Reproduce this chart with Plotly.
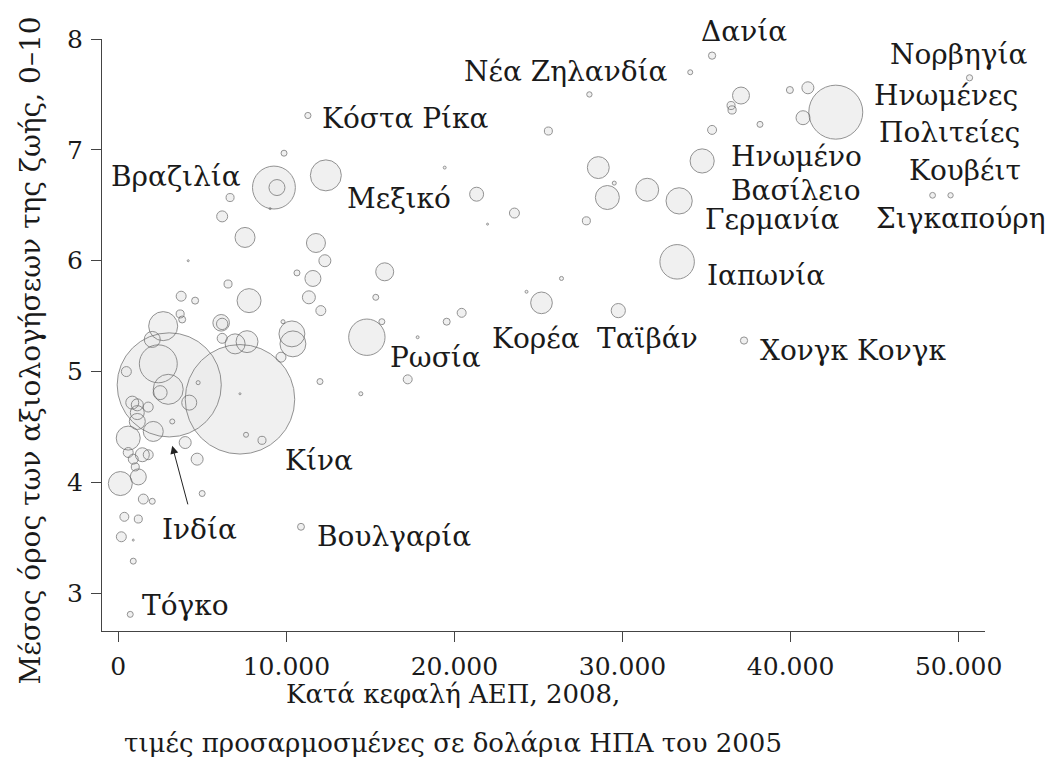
import plotly.graph_objects as go

# GDP per capita (2005 US$ PPP), 2008
gdp = [35330, 34030, 28030, 25590, 37050, 36460, 36520, 39960, 41030, 40740,
       42690, 38180, 35330, 34740, 28560, 29510, 29100, 31470, 33370, 27850,
       33250, 26370, 24290, 25180, 29750, 37230, 50650, 48450, 49520, 19420,
       21320, 23570, 21970, 15850, 15320, 20430, 19540, 14790, 15680, 17810,
       17220, 14430, 12000, 11280, 9860, 9260, 9440, 12350, 9030, 6650,
       6180, 7540, 11760, 12290, 4160, 10630, 11580, 6530, 3740, 4570,
       7780, 11340, 12050, 3680, 3800, 2670, 6120, 6180, 6180, 6950,
       7660, 10330, 10390, 9800, 9680, 2020, 2380, 3030, 2970, 2490,
       4220, 4750, 7240, 7240, 480, 830, 1130, 1780, 1130, 1130,
       2080, 590, 590, 890, 1430, 1780, 1010, 120, 1190, 1490,
       2020, 3210, 3980, 4690, 7600, 8550, 4990, 360, 1190, 180,
       890, 890, 710, 10870]

# Mean life evaluation, 0-10
life = [7.85, 7.70, 7.50, 7.17, 7.49, 7.40, 7.36, 7.54, 7.56, 7.29,
        7.34, 7.23, 7.18, 6.90, 6.84, 6.70, 6.57, 6.64, 6.54, 6.36,
        5.99, 5.84, 5.72, 5.62, 5.55, 5.28, 7.65, 6.59, 6.59, 6.84,
        6.60, 6.43, 6.33, 5.90, 5.67, 5.53, 5.45, 5.31, 5.45, 5.31,
        4.93, 4.80, 4.91, 7.31, 6.97, 6.66, 6.66, 6.77, 6.47, 6.57,
        6.40, 6.21, 6.16, 6.00, 6.00, 5.89, 5.84, 5.79, 5.68, 5.64,
        5.64, 5.67, 5.55, 5.52, 5.47, 5.41, 5.44, 5.43, 5.30, 5.25,
        5.27, 5.34, 5.25, 5.45, 5.13, 5.29, 5.07, 4.88, 4.84, 4.81,
        4.72, 4.90, 4.75, 4.80, 5.00, 4.72, 4.70, 4.68, 4.63, 4.55,
        4.46, 4.40, 4.27, 4.21, 4.25, 4.25, 4.14, 3.99, 4.05, 3.85,
        3.83, 4.55, 4.36, 4.21, 4.43, 4.38, 3.90, 3.69, 3.67, 3.51,
        3.48, 3.29, 2.81, 3.60]

# Population (millions) -> bubble area
pop = [5.5, 2.6, 3, 6.7, 30, 6.7, 7, 5.1, 15, 20.4,
       304, 3.75, 8.4, 61, 50, 1.7, 60, 55, 72, 6.7,
       124, 1.7, 0.9, 49, 21, 5.5, 4, 3.5, 3, 0.9,
       20.4, 10.4, 0.4, 33.8, 3.75, 8.4, 5.1, 138, 3.75, 0.9,
       8.4, 1.7, 3.75, 4, 3.75, 192, 26.7, 100, 0.4, 6.7,
       12.6, 41.7, 37.6, 15, 0.4, 3.75, 26.7, 6.7, 10.4, 5.1,
       60, 17.6, 10.4, 6.7, 5.1, 88, 28.7, 13.5, 10.4, 41.7,
       50, 70, 70, 1.7, 10.4, 26.7, 150, 1130, 94, 20.4,
       23.5, 1.7, 1250, 0.4, 10.4, 17.6, 15, 10.4, 20.4, 26.7,
       41.7, 60, 10.4, 10.4, 20.4, 10.4, 6.7, 60, 26.7, 10.4,
       3.75, 2.6, 15, 15, 2.6, 6.7, 3.75, 8.4, 6.7, 10.4,
       0.4, 3.75, 3.75, 5]

# Country labels
label_text = ["Δανία", "Νέα Ζηλανδία", "Νορβηγία", "Ηνωμένες", "Πολιτείες",
              "Κόστα Ρίκα", "Ηνωμένο", "Βασίλειο", "Βραζιλία", "Μεξικό",
              "Κουβέιτ", "Σιγκαπούρη", "Γερμανία", "Ιαπωνία", "Κορέα",
              "Ταϊβάν", "Χονγκ Κονγκ", "Ρωσία", "Κίνα", "Ινδία",
              "Βουλγαρία", "Τόγκο"]
label_x = [34560, 32800, 45780, 44830, 45130,
           12000, 36340, 36340, 7420, 13480,
           46910, 44950, 34800, 34920, 22090,
           28380, 38060, 16030, 9800, 2490,
           11700, 1310]
label_y = [8.07, 7.71, 7.86, 7.49, 7.16,
           7.28, 6.94, 6.63, 6.76, 6.56,
           6.81, 6.38, 6.37, 5.87, 5.30,
           5.30, 5.19, 5.13, 4.20, 3.58,
           3.51, 2.89]
label_anchor = ["left", "right", "left", "left", "left",
                "left", "left", "left", "right", "left",
                "left", "left", "left", "left", "left",
                "left", "left", "left", "left", "left",
                "left", "left"]

x_tickvals = [0, 10000, 20000, 30000, 40000, 50000]
x_ticktext = ["0", "10.000", "20.000", "30.000", "40.000", "50.000"]
y_tickvals = [3, 4, 5, 6, 7, 8]

# India arrow target
india_arrow_x, india_arrow_y = 3210, 4.33

X_RANGE = [-970, 51569]
Y_RANGE = [2.66, 8.0]

FONT = "DejaVu Serif"
TXT = "#1a1a1a"
REF_POP, REF_DIAM = 304, 54
sizeref = 2.0 * REF_POP / REF_DIAM ** 2

fig = go.Figure()
fig.add_trace(go.Scatter(
    x=gdp, y=life, mode="markers", hoverinfo="skip",
    marker=dict(size=pop, sizemode="area", sizeref=sizeref, sizemin=1,
                color="rgb(233,233,233)", line=dict(width=0)),
    showlegend=False))
fig.add_trace(go.Scatter(
    x=gdp, y=life, mode="markers", hoverinfo="skip",
    marker=dict(size=pop, sizemode="area", sizeref=sizeref, sizemin=1,
                color="rgba(0,0,0,0)", line=dict(width=1, color="rgb(105,105,105)")),
    showlegend=False))

annotations = []
for t, x, y, a in zip(label_text, label_x, label_y, label_anchor):
    # vertical position via paper fraction so labels above the axis top still show
    py = (y - Y_RANGE[0]) / (Y_RANGE[1] - Y_RANGE[0])
    annotations.append(dict(x=x, y=py, yref="paper", text=t, showarrow=False, xanchor=a,
                            yanchor="middle", font=dict(family=FONT, size=28, color=TXT)))

annotations.append(dict(x=india_arrow_x, y=india_arrow_y, ax=16, ay=60, text="",
                        showarrow=True, arrowhead=2, arrowsize=1.6, arrowwidth=1,
                        arrowcolor="#222222", standoff=0))

annotations.append(dict(xref="paper", yref="paper", x=0.398, y=-0.107,
                        text="Κατά κεφαλή ΑΕΠ, 2008,", showarrow=False,
                        xanchor="center", yanchor="middle",
                        font=dict(family=FONT, size=26, color=TXT)))
annotations.append(dict(xref="paper", yref="paper", x=0.398, y=-0.19,
                        text="τιμές προσαρμοσμένες σε δολάρια ΗΠΑ του 2005", showarrow=False,
                        xanchor="center", yanchor="middle",
                        font=dict(family=FONT, size=26, color=TXT)))
annotations.append(dict(xref="paper", yref="paper", x=-0.0815, y=0.474,
                        text="Μέσος όρος των αξιολογήσεων της ζωής, 0–10", showarrow=False,
                        textangle=-90, xanchor="center", yanchor="middle",
                        font=dict(family=FONT, size=28, color=TXT)))

axis_common = dict(showline=True, linecolor="#444444", linewidth=1, ticks="outside",
                   ticklen=10, tickcolor="#444444", tickwidth=1, showgrid=False,
                   zeroline=False, ticklabelstandoff=3,
                   tickfont=dict(family=FONT, size=25, color=TXT))

# the page body adds an 8 px offset, so the figure is 8 px smaller than the window
fig.update_layout(
    width=1050, height=763,
    margin=dict(l=94, r=73, t=31, b=140),
    paper_bgcolor="white", plot_bgcolor="white",
    xaxis=dict(range=X_RANGE, tickvals=x_tickvals, ticktext=x_ticktext, **axis_common),
    yaxis=dict(range=Y_RANGE, tickvals=y_tickvals, **axis_common),
    annotations=annotations,
)

fig.write_html("out.html")
